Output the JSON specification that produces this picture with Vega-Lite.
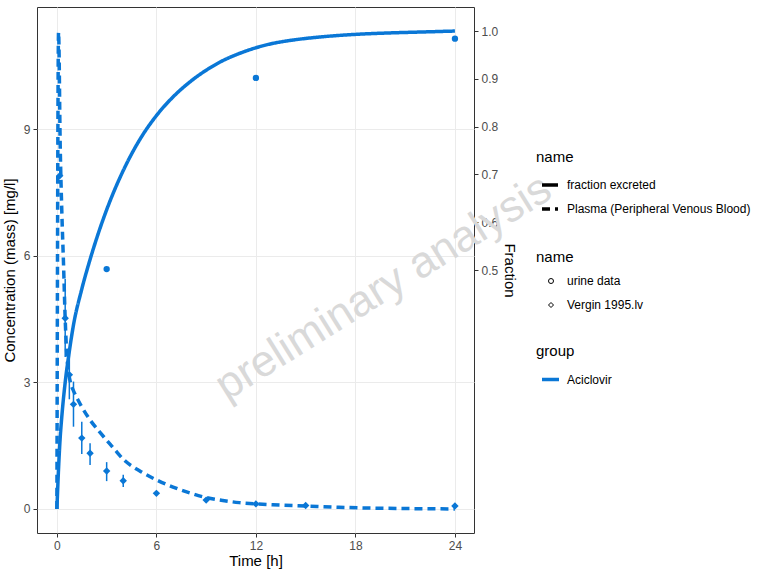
{
  "$schema": "https://vega.github.io/schema/vega-lite/v6.json",
  "width": 437,
  "height": 526,
  "autosize": {"type": "none"},
  "padding": {"left": 37, "top": 7, "right": 294, "bottom": 43},
  "background": "white",
  "config": {
    "font": "Liberation Sans",
    "view": {"stroke": "#333333", "strokeWidth": 1},
    "axis": {
      "domain": false,
      "gridColor": "#ebebeb",
      "gridWidth": 1,
      "tickColor": "#333333",
      "tickSize": 4,
      "labelColor": "#4d4d4d",
      "labelFontSize": 12,
      "labelFont": "Liberation Sans",
      "titleFont": "Liberation Sans",
      "titleFontSize": 15,
      "titleFontWeight": "normal",
      "titleColor": "black",
      "labelPadding": 3
    },
    "legend": {
      "titleFont": "Liberation Sans",
      "titleFontSize": 15,
      "titleFontWeight": "normal",
      "titleColor": "black",
      "labelFont": "Liberation Sans",
      "labelFontSize": 12,
      "labelColor": "black",
      "labelLimit": 400,
      "padding": 0,
      "titlePadding": 10,
      "rowPadding": 7,
      "symbolBaseStrokeColor": "black",
      "symbolBaseFillColor": "transparent"
    }
  },
  "datasets": {
    "plasma": [
      {"t": 0, "c": 0, "name": "Plasma (Peripheral Venous Blood)", "group": "Aciclovir"},
      {"t": 0.1, "c": 11.3, "name": "Plasma (Peripheral Venous Blood)", "group": "Aciclovir"},
      {"t": 0.2, "c": 8.6, "name": "Plasma (Peripheral Venous Blood)", "group": "Aciclovir"},
      {"t": 0.3, "c": 7.0, "name": "Plasma (Peripheral Venous Blood)", "group": "Aciclovir"},
      {"t": 0.4, "c": 5.8, "name": "Plasma (Peripheral Venous Blood)", "group": "Aciclovir"},
      {"t": 0.5, "c": 4.5, "name": "Plasma (Peripheral Venous Blood)", "group": "Aciclovir"},
      {"t": 0.6, "c": 3.65, "name": "Plasma (Peripheral Venous Blood)", "group": "Aciclovir"},
      {"t": 0.7, "c": 3.25, "name": "Plasma (Peripheral Venous Blood)", "group": "Aciclovir"},
      {"t": 0.85, "c": 2.95, "name": "Plasma (Peripheral Venous Blood)", "group": "Aciclovir"},
      {"t": 1.0, "c": 2.8, "name": "Plasma (Peripheral Venous Blood)", "group": "Aciclovir"},
      {"t": 1.25, "c": 2.6, "name": "Plasma (Peripheral Venous Blood)", "group": "Aciclovir"},
      {"t": 1.5, "c": 2.42, "name": "Plasma (Peripheral Venous Blood)", "group": "Aciclovir"},
      {"t": 2, "c": 2.11, "name": "Plasma (Peripheral Venous Blood)", "group": "Aciclovir"},
      {"t": 2.5, "c": 1.86, "name": "Plasma (Peripheral Venous Blood)", "group": "Aciclovir"},
      {"t": 3, "c": 1.63, "name": "Plasma (Peripheral Venous Blood)", "group": "Aciclovir"},
      {"t": 3.5, "c": 1.4, "name": "Plasma (Peripheral Venous Blood)", "group": "Aciclovir"},
      {"t": 4, "c": 1.18, "name": "Plasma (Peripheral Venous Blood)", "group": "Aciclovir"},
      {"t": 5, "c": 0.9, "name": "Plasma (Peripheral Venous Blood)", "group": "Aciclovir"},
      {"t": 6, "c": 0.69, "name": "Plasma (Peripheral Venous Blood)", "group": "Aciclovir"},
      {"t": 7, "c": 0.52, "name": "Plasma (Peripheral Venous Blood)", "group": "Aciclovir"},
      {"t": 8, "c": 0.38, "name": "Plasma (Peripheral Venous Blood)", "group": "Aciclovir"},
      {"t": 9, "c": 0.27, "name": "Plasma (Peripheral Venous Blood)", "group": "Aciclovir"},
      {"t": 10, "c": 0.2, "name": "Plasma (Peripheral Venous Blood)", "group": "Aciclovir"},
      {"t": 11, "c": 0.15, "name": "Plasma (Peripheral Venous Blood)", "group": "Aciclovir"},
      {"t": 12, "c": 0.12, "name": "Plasma (Peripheral Venous Blood)", "group": "Aciclovir"},
      {"t": 13, "c": 0.1, "name": "Plasma (Peripheral Venous Blood)", "group": "Aciclovir"},
      {"t": 15, "c": 0.07, "name": "Plasma (Peripheral Venous Blood)", "group": "Aciclovir"},
      {"t": 17, "c": 0.04, "name": "Plasma (Peripheral Venous Blood)", "group": "Aciclovir"},
      {"t": 19, "c": 0.02, "name": "Plasma (Peripheral Venous Blood)", "group": "Aciclovir"},
      {"t": 21, "c": 0.01, "name": "Plasma (Peripheral Venous Blood)", "group": "Aciclovir"},
      {"t": 24, "c": 0.0, "name": "Plasma (Peripheral Venous Blood)", "group": "Aciclovir"}
    ],
    "vergin": [
      {"t": 0.17, "c": 7.9, "lo": 7.9, "hi": 7.9, "name2": "Vergin 1995.lv", "group": "Aciclovir"},
      {"t": 0.5, "c": 4.52, "lo": 3.6, "hi": 5.45, "name2": "Vergin 1995.lv", "group": "Aciclovir"},
      {"t": 0.75, "c": 3.18, "lo": 2.6, "hi": 3.75, "name2": "Vergin 1995.lv", "group": "Aciclovir"},
      {"t": 1.0, "c": 2.48, "lo": 1.95, "hi": 3.02, "name2": "Vergin 1995.lv", "group": "Aciclovir"},
      {"t": 1.5, "c": 1.68, "lo": 1.3, "hi": 2.07, "name2": "Vergin 1995.lv", "group": "Aciclovir"},
      {"t": 2, "c": 1.32, "lo": 1.04, "hi": 1.56, "name2": "Vergin 1995.lv", "group": "Aciclovir"},
      {"t": 3, "c": 0.9, "lo": 0.66, "hi": 1.11, "name2": "Vergin 1995.lv", "group": "Aciclovir"},
      {"t": 4, "c": 0.67, "lo": 0.52, "hi": 0.81, "name2": "Vergin 1995.lv", "group": "Aciclovir"},
      {"t": 6, "c": 0.37, "lo": 0.32, "hi": 0.42, "name2": "Vergin 1995.lv", "group": "Aciclovir"},
      {"t": 9, "c": 0.21, "lo": 0.19, "hi": 0.23, "name2": "Vergin 1995.lv", "group": "Aciclovir"},
      {"t": 12, "c": 0.12, "lo": 0.11, "hi": 0.13, "name2": "Vergin 1995.lv", "group": "Aciclovir"},
      {"t": 15, "c": 0.08, "lo": 0.07, "hi": 0.09, "name2": "Vergin 1995.lv", "group": "Aciclovir"},
      {"t": 24, "c": 0.07, "lo": 0.07, "hi": 0.07, "name2": "Vergin 1995.lv", "group": "Aciclovir"}
    ],
    "fraction": [
      {"t": 0, "f": 0, "name": "fraction excreted", "group": "Aciclovir"},
      {"t": 0.1, "f": 0.085, "name": "fraction excreted", "group": "Aciclovir"},
      {"t": 0.2, "f": 0.15, "name": "fraction excreted", "group": "Aciclovir"},
      {"t": 0.3, "f": 0.195, "name": "fraction excreted", "group": "Aciclovir"},
      {"t": 0.5, "f": 0.265, "name": "fraction excreted", "group": "Aciclovir"},
      {"t": 0.75, "f": 0.33, "name": "fraction excreted", "group": "Aciclovir"},
      {"t": 1.0, "f": 0.385, "name": "fraction excreted", "group": "Aciclovir"},
      {"t": 1.5, "f": 0.46, "name": "fraction excreted", "group": "Aciclovir"},
      {"t": 2, "f": 0.522, "name": "fraction excreted", "group": "Aciclovir"},
      {"t": 2.5, "f": 0.577, "name": "fraction excreted", "group": "Aciclovir"},
      {"t": 3, "f": 0.626, "name": "fraction excreted", "group": "Aciclovir"},
      {"t": 4, "f": 0.708, "name": "fraction excreted", "group": "Aciclovir"},
      {"t": 5, "f": 0.773, "name": "fraction excreted", "group": "Aciclovir"},
      {"t": 6, "f": 0.823, "name": "fraction excreted", "group": "Aciclovir"},
      {"t": 7, "f": 0.862, "name": "fraction excreted", "group": "Aciclovir"},
      {"t": 8, "f": 0.893, "name": "fraction excreted", "group": "Aciclovir"},
      {"t": 9, "f": 0.918, "name": "fraction excreted", "group": "Aciclovir"},
      {"t": 10, "f": 0.938, "name": "fraction excreted", "group": "Aciclovir"},
      {"t": 11, "f": 0.953, "name": "fraction excreted", "group": "Aciclovir"},
      {"t": 12, "f": 0.965, "name": "fraction excreted", "group": "Aciclovir"},
      {"t": 13, "f": 0.974, "name": "fraction excreted", "group": "Aciclovir"},
      {"t": 14, "f": 0.98, "name": "fraction excreted", "group": "Aciclovir"},
      {"t": 16, "f": 0.988, "name": "fraction excreted", "group": "Aciclovir"},
      {"t": 18, "f": 0.993, "name": "fraction excreted", "group": "Aciclovir"},
      {"t": 20, "f": 0.996, "name": "fraction excreted", "group": "Aciclovir"},
      {"t": 22, "f": 0.998, "name": "fraction excreted", "group": "Aciclovir"},
      {"t": 24, "f": 1.0, "name": "fraction excreted", "group": "Aciclovir"}
    ],
    "urine": [
      {"t": 3, "f": 0.502, "name2": "urine data", "group": "Aciclovir"},
      {"t": 12, "f": 0.902, "name2": "urine data", "group": "Aciclovir"},
      {"t": 24, "f": 0.984, "name2": "urine data", "group": "Aciclovir"}
    ],
    "watermark": [
      {"label": "preliminary analysis", "t": 19.7, "f": 0.4625}
    ]
  },
  "layer": [
    {
      "layer": [
        {
          "data": {"name": "plasma"},
          "mark": {"type": "line", "strokeWidth": 3.5, "strokeCap": "butt", "interpolate": "monotone"},
          "encoding": {
            "x": {"field": "t", "type": "quantitative"},
            "y": {"field": "c", "type": "quantitative"},
            "strokeDash": {
              "field": "name",
              "type": "nominal",
              "title": "name",
              "scale": {"domain": ["fraction excreted", "Plasma (Peripheral Venous Blood)"], "range": [[1, 0], [8, 5]]},
              "legend": {"orient": "none", "legendX": 499, "legendY": 143, "symbolType": "stroke", "symbolSize": 256, "symbolStrokeWidth": 3.5, "symbolStrokeColor": "black", "symbolOffset": 4, "labelOffset": 7}
            },
            "color": {
              "field": "group",
              "type": "nominal",
              "title": "group",
              "scale": {"domain": ["Aciclovir"], "range": ["#0a77d6"]},
              "legend": {"orient": "none", "legendX": 499, "legendY": 337, "symbolType": "stroke", "symbolSize": 289, "symbolStrokeWidth": 3.5, "symbolOffset": 4, "labelOffset": 6}
            }
          }
        },
        {
          "data": {"name": "vergin"},
          "mark": {"type": "rule", "strokeWidth": 1.5},
          "encoding": {
            "x": {"field": "t", "type": "quantitative"},
            "y": {"field": "lo", "type": "quantitative"},
            "y2": {"field": "hi"},
            "color": {"field": "group", "type": "nominal"}
          }
        },
        {
          "data": {"name": "vergin"},
          "mark": {"type": "point", "filled": true, "opacity": 1, "size": 55},
          "encoding": {
            "x": {"field": "t", "type": "quantitative"},
            "y": {"field": "c", "type": "quantitative"},
            "shape": {
              "field": "name2",
              "type": "nominal",
              "title": "name",
              "scale": {"domain": ["urine data", "Vergin 1995.lv"], "range": ["circle", "diamond"]},
              "legend": {"orient": "none", "legendX": 499, "legendY": 243, "rowPadding": 12, "symbolSize": 25, "symbolStrokeWidth": 1, "symbolStrokeColor": "black", "symbolFillColor": "transparent", "symbolOffset": 9, "labelOffset": 10}
            },
            "color": {"field": "group", "type": "nominal"}
          }
        }
      ],
      "encoding": {
        "x": {
          "field": "t",
          "type": "quantitative",
          "title": "Time [h]",
          "scale": {"domain": [-1.2, 25.15], "nice": false, "zero": false},
          "axis": {"values": [0, 6, 12, 18, 24], "titlePadding": 2}
        },
        "y": {
          "field": "c",
          "type": "quantitative",
          "title": "Concentration (mass) [mg/l]",
          "scale": {"domain": [-0.57, 11.9], "nice": false, "zero": false},
          "axis": {"orient": "left", "values": [0, 3, 6, 9], "titlePadding": 6}
        }
      }
    },
    {
      "layer": [
        {
          "data": {"name": "fraction"},
          "mark": {"type": "line", "strokeWidth": 3.5, "interpolate": "monotone"},
          "encoding": {
            "x": {"field": "t", "type": "quantitative"},
            "y": {"field": "f", "type": "quantitative"},
            "strokeDash": {"field": "name", "type": "nominal"},
            "color": {"field": "group", "type": "nominal"}
          }
        },
        {
          "data": {"name": "urine"},
          "mark": {"type": "point", "filled": true, "opacity": 1, "size": 40},
          "encoding": {
            "x": {"field": "t", "type": "quantitative"},
            "y": {"field": "f", "type": "quantitative"},
            "shape": {"field": "name2", "type": "nominal"},
            "color": {"field": "group", "type": "nominal"}
          }
        },
        {
          "data": {"name": "watermark"},
          "mark": {"type": "text", "fontSize": 44, "angle": 328, "color": "#d9d9d9", "align": "center", "baseline": "middle", "font": "Liberation Sans"},
          "encoding": {
            "x": {"field": "t", "type": "quantitative"},
            "y": {"field": "f", "type": "quantitative"},
            "text": {"field": "label"}
          }
        }
      ],
      "encoding": {
        "y": {
          "field": "f",
          "type": "quantitative",
          "title": "Fraction",
          "scale": {"domain": [-0.0503, 1.0503], "nice": false, "zero": false},
          "axis": {"orient": "right", "values": [0.5, 0.6, 0.7, 0.8, 0.9, 1.0], "format": ".1f", "grid": false, "titlePadding": 4}
        }
      }
    }
  ],
  "resolve": {"scale": {"y": "independent"}, "axis": {"y": "independent"}}
}
